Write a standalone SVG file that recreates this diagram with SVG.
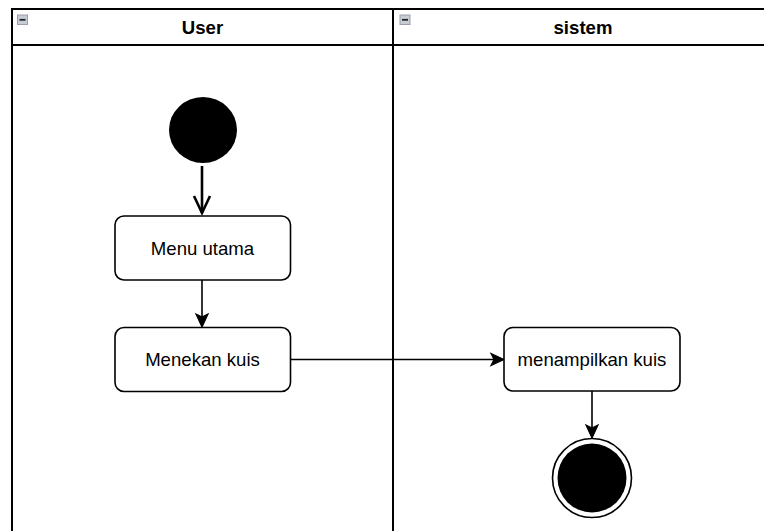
<svg xmlns="http://www.w3.org/2000/svg" width="764" height="531" viewBox="0 0 764 531">
  <defs>
    <style>
      .lane { fill: none; stroke: #000; stroke-width: 2; }
      .hdr { font-family: "Liberation Sans", Arial, sans-serif; font-size: 18.6px; font-weight: bold; fill: #000; text-anchor: middle; }
      .act rect { fill: #fff; stroke: #000; stroke-width: 1.6; }
      .act text { font-family: "Liberation Sans", Arial, sans-serif; font-size: 18.6px; fill: #000; text-anchor: middle; }
      .edge { fill: none; stroke: #000; stroke-width: 1.6; }
      .edge-thick { fill: none; stroke: #000; stroke-width: 2.6; }
      .head { fill: #000; stroke: #000; stroke-width: 1.2; stroke-linejoin: miter; }
      .toggle rect { fill: #c8ccd4; stroke: #9aa0ab; stroke-width: 1; }
      .toggle line { stroke: #222; stroke-width: 1.8; }
    </style>
  </defs>

  <rect width="764" height="531" fill="#fff"/>

  <!-- swimlane pool -->
  <g id="lane-user">
    <rect class="lane" x="12" y="9" width="381" height="540"/>
    <line class="lane" x1="12" y1="45" x2="393" y2="45"/>
    <g class="toggle">
      <rect x="17.5" y="15" width="10" height="9.5"/>
      <line x1="19.5" y1="19.8" x2="25.5" y2="19.8"/>
    </g>
    <text class="hdr" x="202.5" y="34">User</text>
  </g>
  <g id="lane-sistem">
    <rect class="lane" x="393" y="9" width="380" height="540"/>
    <line class="lane" x1="393" y1="45" x2="773" y2="45"/>
    <g class="toggle">
      <rect x="400" y="15" width="10" height="9.5"/>
      <line x1="402" y1="19.8" x2="408" y2="19.8"/>
    </g>
    <text class="hdr" x="583" y="34">sistem</text>
  </g>

  <!-- connectors -->
  <g id="connectors">
    <!-- start to Menu utama: open arrowhead -->
    <line class="edge-thick" x1="202" y1="166" x2="202" y2="213"/>
    <polyline class="edge-thick" points="194,196 202,213 210,196"/>
    <!-- Menu utama to Menekan kuis -->
    <line class="edge" x1="202" y1="280" x2="202" y2="318"/>
    <path class="head" d="M202,327 L196,314 L202,317 L208,314 Z"/>
    <!-- Menekan kuis to menampilkan kuis -->
    <line class="edge" x1="290" y1="359.5" x2="495" y2="359.5"/>
    <path class="head" d="M504,359.5 L491,353.5 L494,359.5 L491,365.5 Z"/>
    <!-- menampilkan kuis to end -->
    <line class="edge" x1="592" y1="391" x2="592" y2="429"/>
    <path class="head" d="M592,438 L586,425 L592,428 L598,425 Z"/>
  </g>

  <!-- nodes -->
  <g id="start">
    <ellipse cx="203" cy="130" rx="34" ry="33" fill="#000"/>
  </g>
  <g id="menu-utama" class="act">
    <rect x="115" y="216" width="175.5" height="64" rx="9" ry="9"/>
    <text x="202.5" y="254.5">Menu utama</text>
  </g>
  <g id="menekan-kuis" class="act">
    <rect x="115" y="327.5" width="175.5" height="64" rx="9" ry="9"/>
    <text x="202.5" y="366">Menekan kuis</text>
  </g>
  <g id="menampilkan-kuis" class="act">
    <rect x="504" y="327.5" width="176" height="63.5" rx="9" ry="9"/>
    <text x="592" y="366">menampilkan kuis</text>
  </g>
  <g id="end">
    <circle cx="592" cy="478" r="39.5" fill="#fff" stroke="#000" stroke-width="1.6"/>
    <circle cx="592" cy="478" r="34.5" fill="#000"/>
  </g>
</svg>
